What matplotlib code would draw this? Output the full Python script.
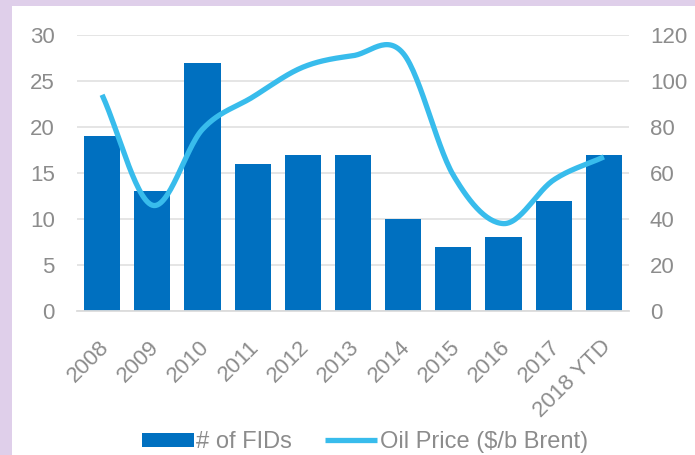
import numpy as np
import matplotlib.pyplot as plt
from matplotlib.patches import Rectangle
from matplotlib.transforms import ScaledTranslation

plt.rcParams['font.family'] = ['Liberation Sans', 'DejaVu Sans']

years = ['2008', '2009', '2010', '2011', '2012', '2013', '2014', '2015', '2016', '2017', '2018 YTD']
fids = [19, 13, 27, 16, 17, 17, 10, 7, 8, 12, 17]
oil = [94, 46, 79, 93, 106, 111, 112, 59, 38, 57, 67]

bar_col = '#0070C0'
line_col = '#38BCEC'
grey = '#8C8C8C'


def smooth(x, y, n=30):
    # catmull-rom style smoothing, like excel's smoothed line
    x = np.asarray(x, float)
    y = np.asarray(y, float)
    m = np.zeros_like(y)
    m[1:-1] = (y[2:] - y[:-2]) / 2
    m[0] = y[1] - y[0]
    m[-1] = y[-1] - y[-2]
    xs, ys = [], []
    for i in range(len(x) - 1):
        t = np.linspace(0, 1, n, endpoint=False)
        h00 = 2 * t**3 - 3 * t**2 + 1
        h10 = t**3 - 2 * t**2 + t
        h01 = -2 * t**3 + 3 * t**2
        h11 = t**3 - t**2
        xs.append(x[i] + t * (x[i + 1] - x[i]))
        ys.append(h00 * y[i] + h10 * m[i] + h01 * y[i + 1] + h11 * m[i + 1])
    xs.append([x[-1]])
    ys.append([y[-1]])
    return np.concatenate(xs), np.concatenate(ys)


fig = plt.figure(figsize=(6.95, 4.55), dpi=100)
fig.patch.set_facecolor('#DFCFEA')
fig.patches.append(Rectangle((12 / 695, 0), 1, 1 - 6 / 455, transform=fig.transFigure,
                             facecolor='white', edgecolor='none', zorder=-10))

ax = fig.add_axes([77 / 695, 1 - 311 / 455, 552 / 695, 276 / 455])
ax.set_facecolor('none')
xpos = np.arange(len(years))
ax.bar(xpos, fids, width=0.72, color=bar_col, zorder=2, label='# of FIDs')
ax.set_xlim(-0.5, len(years) - 0.5)
ax.set_ylim(0, 30)
ax.set_yticks(range(0, 31, 5))
ax.grid(axis='y', color='#E3E3E3', linewidth=1.3, zorder=0)
ax.set_axisbelow(True)
for s in ['top', 'left', 'right']:
    ax.spines[s].set_visible(False)
ax.spines['bottom'].set_color('#DCDCDC')
ax.spines['bottom'].set_linewidth(1.3)
ax.tick_params(length=0, labelsize=16, labelcolor=grey, pad=16)
ax.set_xticks(xpos)
ax.set_xticklabels(years, rotation=45, ha='right', rotation_mode='anchor')
ax.tick_params(axis='x', pad=14)
shift = ScaledTranslation(-4 / 100, -6 / 100, fig.dpi_scale_trans)
for lab in ax.get_xticklabels():
    lab.set_transform(lab.get_transform() + shift)

ax2 = ax.twinx()
sx, sy = smooth(xpos, oil)
ax2.plot(sx, sy, color=line_col, linewidth=3.8, solid_capstyle='butt', label='Oil Price ($/b Brent)')
ax2.set_ylim(0, 120)
ax2.set_yticks(range(0, 121, 20))
for s in ax2.spines.values():
    s.set_visible(False)
ax2.tick_params(length=0, labelsize=16, labelcolor=grey, pad=15)

h1, l1 = ax.get_legend_handles_labels()
h2, l2 = ax2.get_legend_handles_labels()
leg = fig.legend(h1 + h2, l1 + l2, loc='center', bbox_to_anchor=(365 / 695, 1 - 442 / 455),
                 ncol=2, frameon=False, fontsize=17, handlelength=2.2, handleheight=0.55,
                 handletextpad=0.1, columnspacing=1.4, borderpad=0)
for t in leg.get_texts():
    t.set_color(grey)

fig.savefig('out.png', dpi=100)
